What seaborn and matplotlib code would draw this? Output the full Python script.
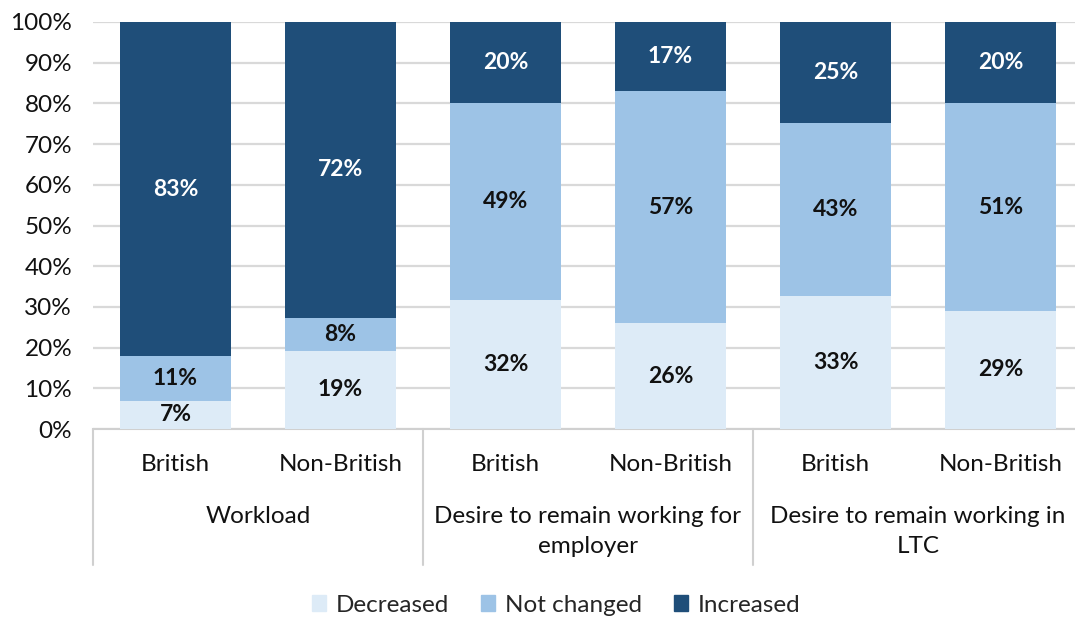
import matplotlib
matplotlib.use("Agg")
import matplotlib.pyplot as plt
import matplotlib.patches as mpatches
import seaborn as sns
import pandas as pd
import numpy as np

groups = ["Workload", "Desire to remain working for\nemployer", "Desire to remain working in\nLTC"]
subgroups = ["British", "Non-British"]
decreased = [7, 19, 32, 26, 33, 29]
not_changed = [11, 8, 49, 57, 43, 51]
increased = [83, 72, 20, 17, 25, 20]
series_names = ["Decreased", "Not changed", "Increased"]
colors = ["#DDEBF7", "#9DC3E6", "#1F4E79"]

sns.set_theme(style="white")
plt.rcParams["font.family"] = ["Lato", "DejaVu Sans"]

FS = 17.5
bar_ids = [f"{g}|{s}" for g in groups for s in subgroups]
raw = np.array([decreased, not_changed, increased], dtype=float)
share = raw / raw.sum(axis=0) * 100
cum = np.cumsum(share, axis=0)

df = pd.DataFrame({"bar": bar_ids, "c0": cum[0], "c1": cum[1], "c2": cum[2]})

fig = plt.figure(figsize=(10.75, 6.18), dpi=100)
ax = fig.add_axes([93/1075, 1-429/618, 990/1075, 407/618])

for col, c in zip(["c2", "c1", "c0"], [colors[2], colors[1], colors[0]]):
    sns.barplot(data=df, x="bar", y=col, color=c, width=0.667, saturation=1,
                ax=ax, order=bar_ids, linewidth=0, zorder=3)

ax.set_ylim(0, 100)
ax.set_xlim(-0.5, 5.5)
ax.set_yticks(np.arange(0, 101, 10))
ax.set_yticklabels([f"{v}%" for v in range(0, 101, 10)], fontsize=FS, color="#111111")
ax.tick_params(axis="y", length=0, pad=15)
ax.yaxis.grid(True, color="#D9D9D9", linewidth=1.6, zorder=0)
ax.set_axisbelow(True)
for s in ["top", "right", "left"]:
    ax.spines[s].set_visible(False)
ax.spines["bottom"].set_color("#D0D0D0")
ax.spines["bottom"].set_linewidth(1.5)
ax.set_xlabel("")
ax.set_ylabel("")
ax.set_xticks(range(len(bar_ids)))
ax.set_xticklabels([s for g in groups for s in subgroups], fontsize=FS, color="#111111")
ax.tick_params(axis="x", length=0, pad=18)

# segment labels
for i in range(len(bar_ids)):
    bottoms = [0, cum[0][i], cum[1][i]]
    for k in range(3):
        mid = bottoms[k] + share[k][i] / 2
        ax.text(i, mid, f"{int(raw[k][i])}%", ha="center", va="center",
                fontsize=16.5, fontweight="bold",
                color="white" if k == 2 else "#111111", zorder=5)

# group labels and separators
trans = ax.get_xaxis_transform()
for gi, g in enumerate(groups):
    ax.text(gi * 2 + 0.5, -0.19, g, transform=trans, ha="center", va="top",
            fontsize=FS, color="#111111", linespacing=1.5)
for xb in [-0.5, 1.5, 3.5, 5.5]:
    ax.plot([xb, xb], [0, -0.334], transform=trans, color="#D0D0D0",
            linewidth=1.5, clip_on=False)

handles = [mpatches.Patch(color=c, label=n) for c, n in zip(colors, series_names)]
fig.legend(handles=handles, loc="center", bbox_to_anchor=(556/1075, 1-605/618),
           ncol=3, frameon=False, fontsize=FS, handlelength=0.6, handleheight=0.6,
           handletextpad=0.4, columnspacing=1.3)

fig.savefig("out.png", dpi=100)
